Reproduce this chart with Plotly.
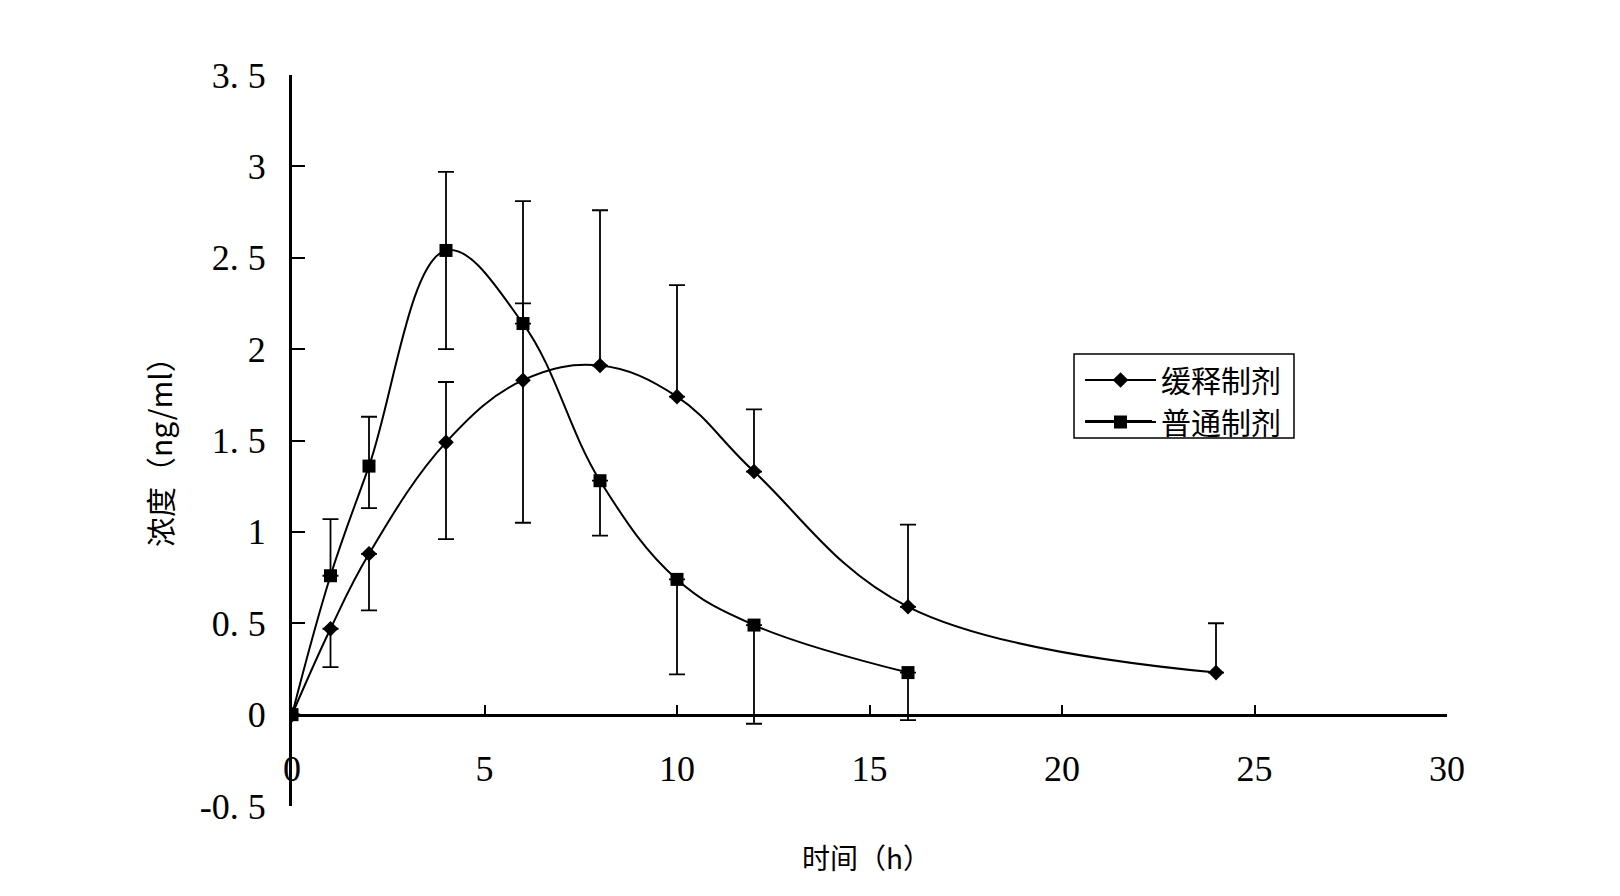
import plotly.graph_objects as go

# sampling times (h)
time_h = [0, 1, 2, 4, 6, 8, 10, 12, 16, 24]
time_h_ir = [0, 1, 2, 4, 6, 8, 10, 12, 16]

# sustained-release formulation (缓释制剂), mean and error bars
sr_conc = [0, 0.47, 0.88, 1.49, 1.83, 1.91, 1.74, 1.33, 0.59, 0.23]
sr_err_up = [0, 0, 0, 0.33, 0.42, 0.85, 0.61, 0.34, 0.45, 0.27]
sr_err_down = [0, 0.21, 0.31, 0.53, 0.78, 0, 0, 0, 0, 0]

# ordinary formulation (普通制剂)
ir_conc = [0, 0.76, 1.36, 2.54, 2.14, 1.28, 0.74, 0.49, 0.23]
ir_err_up = [0, 0.31, 0.27, 0.43, 0.67, 0, 0, 0, 0]
ir_err_down = [0, 0, 0.23, 0.54, 0, 0.30, 0.52, 0.54, 0.26]

y_ticks = [-0.5, 0, 0.5, 1, 1.5, 2, 2.5, 3, 3.5]
y_tick_text = ["-0. 5", "0", "0. 5", "1", "1. 5", "2", "2. 5", "3", "3. 5"]
x_ticks = [0, 5, 10, 15, 20, 25, 30]

serif = "Liberation Serif, Times New Roman, serif"
cjk = "Noto Sans CJK SC, sans-serif"

# page has an 8px body margin, so the figure is drawn a bit smaller
W, H = 1604, 880
ML, MT = 284, 67
PW, PH = 1155, 731
MR, MB = W - ML - PW, H - MT - PH


def px(x):
    # screen pixel -> paper x
    return (x - 8 - ML) / PW


def py(y):
    return (MT + PH - (y - 8)) / PH


fig = go.Figure()

fig.add_trace(go.Scatter(
    x=time_h, y=sr_conc, name="缓释制剂",
    mode="lines+markers",
    line=dict(color="black", width=2, shape="spline", smoothing=1.1),
    marker=dict(symbol="diamond", size=12, color="black"),
    error_y=dict(type="data", symmetric=False, array=sr_err_up,
                 arrayminus=sr_err_down, color="black", thickness=1.8, width=8),
))
fig.add_trace(go.Scatter(
    x=time_h_ir, y=ir_conc, name="普通制剂",
    mode="lines+markers",
    line=dict(color="black", width=2, shape="spline", smoothing=1.1),
    marker=dict(symbol="square", size=13, color="black"),
    error_y=dict(type="data", symmetric=False, array=ir_err_up,
                 arrayminus=ir_err_down, color="black", thickness=1.8, width=8),
))

# legend frame and long legend lines (plotly's own symbol line is short)
shapes = [
    dict(type="rect", xref="paper", yref="paper",
         x0=px(1074), x1=px(1294), y0=py(438), y1=py(354),
         line=dict(color="black", width=1.5), fillcolor="white", layer="above"),
    dict(type="line", xref="paper", yref="paper",
         x0=px(1085), x1=px(1152), y0=py(380), y1=py(380),
         line=dict(color="black", width=2), layer="above"),
    dict(type="line", xref="paper", yref="paper",
         x0=px(1085), x1=px(1152), y0=py(421), y1=py(421),
         line=dict(color="black", width=2), layer="above"),
]

fig.update_layout(
    width=W, height=H,
    paper_bgcolor="white", plot_bgcolor="white",
    margin=dict(l=ML, r=MR, t=MT, b=MB),
    showlegend=True,
    legend=dict(
        x=px(1080), y=py(354), xanchor="left", yanchor="top",
        bgcolor="rgba(0,0,0,0)", borderwidth=0,
        itemwidth=71,
        font=dict(family=cjk, size=30, color="black"),
        tracegroupgap=0,
    ),
    shapes=shapes,
    xaxis=dict(
        range=[0, 30], tickvals=x_ticks,
        anchor="free", position=0.125,
        showline=True, linecolor="black", linewidth=3,
        ticks="inside", ticklen=9, tickwidth=2, tickcolor="black",
        ticklabelstandoff=21,
        tickfont=dict(family=serif, size=36, color="black"),
        showgrid=False, zeroline=False,
    ),
    yaxis=dict(
        range=[-0.5, 3.5], tickvals=y_ticks, ticktext=y_tick_text,
        showline=True, linecolor="black", linewidth=3,
        ticks="inside", ticklen=13, tickwidth=2, tickcolor="black",
        ticklabelstandoff=16,
        tickfont=dict(family=serif, size=36, color="black"),
        showgrid=False, zeroline=False,
    ),
    annotations=[
        dict(text="时间（h）", xref="paper", yref="paper", x=px(866), y=py(857),
             xanchor="center", yanchor="middle", showarrow=False,
             font=dict(family=cjk, size=28, color="black")),
        dict(text="浓度（ng/ml）", xref="paper", yref="paper", x=px(159), y=py(445),
             xanchor="center", yanchor="middle", showarrow=False, textangle=-90,
             font=dict(family=cjk, size=30, color="black")),
    ],
)

fig.write_html("out.html")
